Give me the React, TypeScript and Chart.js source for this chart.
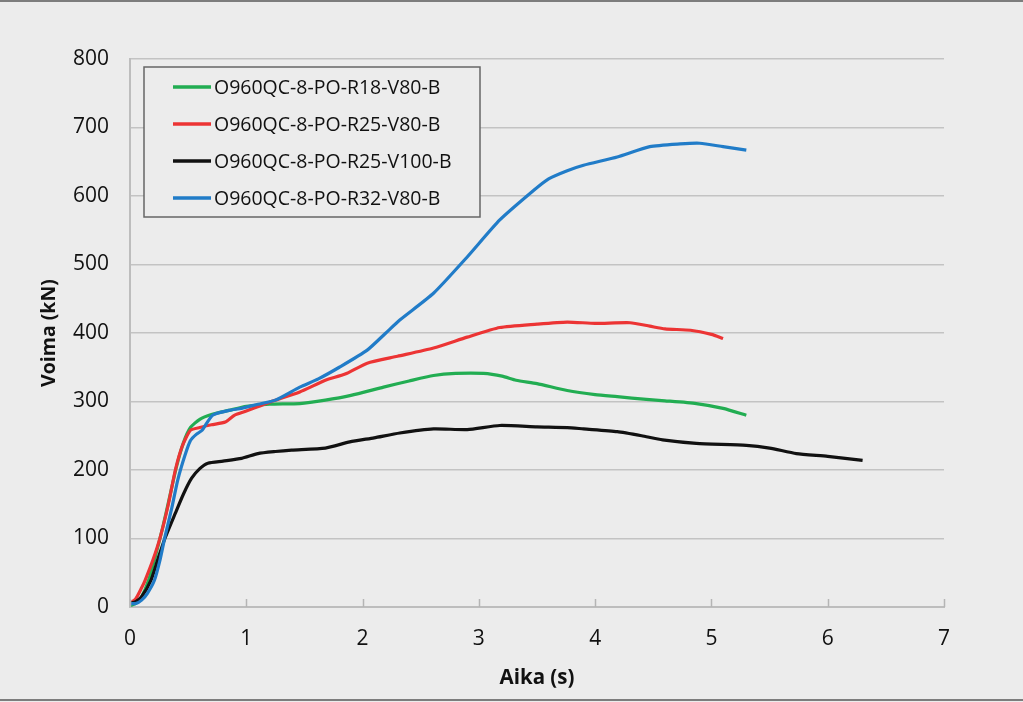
import React, { useEffect, useRef } from "react";
import { Chart, registerables } from "chart.js";

Chart.register(...registerables);

const seriesLabels = [
  "O960QC-8-PO-R18-V80-B",
  "O960QC-8-PO-R25-V80-B",
  "O960QC-8-PO-R25-V100-B",
  "O960QC-8-PO-R32-V80-B",
];
const seriesColors = ["#22ad52", "#ec3434", "#111111", "#217cc8"];

const greenT = [0, 0.05, 0.1, 0.16, 0.22, 0.28, 0.34, 0.4, 0.46, 0.52, 0.6, 0.7, 0.85, 1.0, 1.2, 1.46, 1.68, 1.9, 2.18, 2.4, 2.61, 2.8, 3.04, 3.2, 3.32, 3.5, 3.76, 4.0, 4.19, 4.44, 4.6, 4.87, 5.1, 5.3];
const greenV = [2, 5, 15, 39, 75, 115, 160, 205, 240, 262, 274, 281, 287, 293, 296, 297, 302, 309, 321, 330, 338, 341, 341, 337, 331, 326, 316, 310, 307, 303, 301, 297, 290, 280];

const redT = [0, 0.05, 0.1, 0.13, 0.2, 0.26, 0.33, 0.39, 0.45, 0.52, 0.6, 0.7, 0.82, 0.9, 1.0, 1.2, 1.46, 1.68, 1.85, 2.04, 2.3, 2.61, 2.9, 3.18, 3.5, 3.76, 4.0, 4.3, 4.47, 4.6, 4.82, 5.0, 5.1];
const redV = [5, 12, 28, 39, 70, 102, 150, 200, 235, 258, 262, 266, 270, 280, 286, 299, 314, 331, 340, 356, 366, 378, 394, 408, 413, 416, 414, 415, 410, 406, 404, 398, 392];

const blackT = [0, 0.05, 0.1, 0.18, 0.24, 0.3, 0.39, 0.46, 0.53, 0.6, 0.67, 0.8, 0.96, 1.1, 1.25, 1.39, 1.68, 1.89, 2.1, 2.32, 2.61, 2.9, 3.18, 3.5, 3.76, 3.9, 4.19, 4.4, 4.58, 4.87, 5.3, 5.5, 5.73, 6.0, 6.3];
const blackV = [5, 8, 15, 39, 70, 100, 137, 165, 188, 202, 210, 213, 217, 224, 227, 229, 232, 241, 247, 254, 260, 259, 265, 263, 262, 260, 256, 250, 244, 239, 236, 232, 224, 220, 214];

const blueT = [0, 0.05, 0.1, 0.15, 0.21, 0.26, 0.3, 0.36, 0.41, 0.47, 0.52, 0.57, 0.62, 0.71, 0.85, 0.96, 1.1, 1.25, 1.46, 1.62, 1.8, 2.04, 2.2, 2.32, 2.61, 2.9, 3.18, 3.47, 3.6, 3.76, 3.9, 4.19, 4.47, 4.73, 4.9, 5.1, 5.3];
const blueV = [5, 5, 10, 20, 39, 70, 102, 145, 185, 220, 243, 252, 258, 280, 287, 290, 296, 302, 321, 333, 350, 375, 400, 419, 458, 511, 565, 608, 625, 637, 645, 657, 672, 676, 677, 672, 667];

const xTicks = [0, 1, 2, 3, 4, 5, 6, 7];
const yTicks = [0, 100, 200, 300, 400, 500, 600, 700, 800];

const xTitle = "Aika (s)";
const yTitle = "Voima (kN)";

const FONT = "'Open Sans', 'DejaVu Sans', sans-serif";

function pts(t: number[], v: number[]) {
  return t.map((x, i) => ({ x, y: v[i] }));
}

export default function App() {
  const ref = useRef<HTMLCanvasElement | null>(null);

  useEffect(() => {
    document.body.style.margin = "0";
    const canvas = ref.current;
    if (!canvas) return;

    const bgPlugin = {
      id: "bgFrame",
      beforeDraw(chart: any) {
        const { ctx, width, height } = chart;
        ctx.save();
        ctx.fillStyle = "#ececec";
        ctx.fillRect(0, 0, width, height);
        ctx.fillStyle = "#7d7d7d";
        ctx.fillRect(0, 0, width, 2);
        ctx.fillRect(0, height - 3, width, 2);
        ctx.restore();
      },
    };

    const overlayPlugin = {
      id: "overlay",
      afterDraw(chart: any) {
        const { ctx, chartArea } = chart;
        const xs = chart.scales.x;
        ctx.save();
        ctx.strokeStyle = "#b5b5b5";
        ctx.lineWidth = 1.5;
        xTicks.forEach((v) => {
          const px = Math.round(xs.getPixelForValue(v)) + 0.5;
          ctx.beginPath();
          ctx.moveTo(px, chartArea.bottom);
          ctx.lineTo(px, chartArea.bottom - 8);
          ctx.stroke();
        });
        const bx = chartArea.left + 14;
        const by = chartArea.top + 8;
        const bw = 336;
        const bh = 150;
        ctx.fillStyle = "#ececec";
        ctx.fillRect(bx, by, bw, bh);
        ctx.strokeStyle = "#666666";
        ctx.lineWidth = 1.5;
        ctx.strokeRect(bx, by, bw, bh);
        ctx.font = `19.5px ${FONT}`;
        ctx.textBaseline = "middle";
        ctx.textAlign = "left";
        seriesLabels.forEach((lab, i) => {
          const cy = by + 20 + i * 37;
          ctx.strokeStyle = seriesColors[i];
          ctx.lineWidth = 3.5;
          ctx.beginPath();
          ctx.moveTo(bx + 29, cy);
          ctx.lineTo(bx + 67, cy);
          ctx.stroke();
          ctx.fillStyle = "#111111";
          ctx.fillText(lab, bx + 70, cy + 1);
        });
        ctx.restore();
      },
    };

    const chart = new Chart(canvas, {
      type: "line",
      data: {
        datasets: [
          { label: seriesLabels[0], data: pts(greenT, greenV), borderColor: seriesColors[0], order: 3 },
          { label: seriesLabels[1], data: pts(redT, redV), borderColor: seriesColors[1], order: 2 },
          { label: seriesLabels[2], data: pts(blackT, blackV), borderColor: seriesColors[2], order: 1 },
          { label: seriesLabels[3], data: pts(blueT, blueV), borderColor: seriesColors[3], order: 0 },
        ].map((d) => ({
          ...d,
          borderWidth: 3.2,
          pointRadius: 0,
          tension: 0.2,
          fill: false,
          backgroundColor: d.borderColor,
        })),
      },
      options: {
        animation: false,
        responsive: true,
        maintainAspectRatio: false,
        layout: { padding: { left: 0, top: 59, right: 79, bottom: 0 } },
        plugins: {
          legend: { display: false },
          tooltip: { enabled: false },
        },
        scales: {
          x: {
            type: "linear",
            min: xTicks[0],
            max: xTicks[xTicks.length - 1],
            afterBuildTicks(s: any) {
              s.ticks = xTicks.map((v) => ({ value: v }));
            },
            ticks: {
              font: { family: FONT, size: 21 },
              color: "#111111",
              padding: 19,
              maxRotation: 0,
            },
            grid: { display: true, drawOnChartArea: false, drawTicks: false },
            border: { display: true, color: "#bdbdbd", width: 2 },
            title: {
              display: true,
              text: xTitle,
              font: { family: FONT, size: 20.5, weight: "bold" },
              color: "#111111",
              padding: { top: 0, bottom: 12 },
            },
            afterFit(s: any) {
              s.height = 95;
            },
          },
          y: {
            type: "linear",
            min: yTicks[0],
            max: yTicks[yTicks.length - 1],
            afterBuildTicks(s: any) {
              s.ticks = yTicks.map((v) => ({ value: v }));
            },
            ticks: {
              font: { family: FONT, size: 21 },
              color: "#111111",
              padding: 21,
            },
            grid: { color: "#c3c3c3", lineWidth: 1.5, drawTicks: false },
            border: { display: true, color: "#bdbdbd", width: 2 },
            title: {
              display: true,
              text: yTitle,
              font: { family: FONT, size: 19.5, weight: "bold" },
              color: "#111111",
              padding: { top: 38, bottom: 0 },
            },
            afterFit(s: any) {
              s.width = 130;
            },
          },
        },
      },
      plugins: [bgPlugin, overlayPlugin],
    } as any);

    return () => chart.destroy();
  }, []);

  return (
    <div style={{ position: "fixed", left: 0, top: 0, width: 1023, height: 702 }}>
      <canvas ref={ref} />
    </div>
  );
}
